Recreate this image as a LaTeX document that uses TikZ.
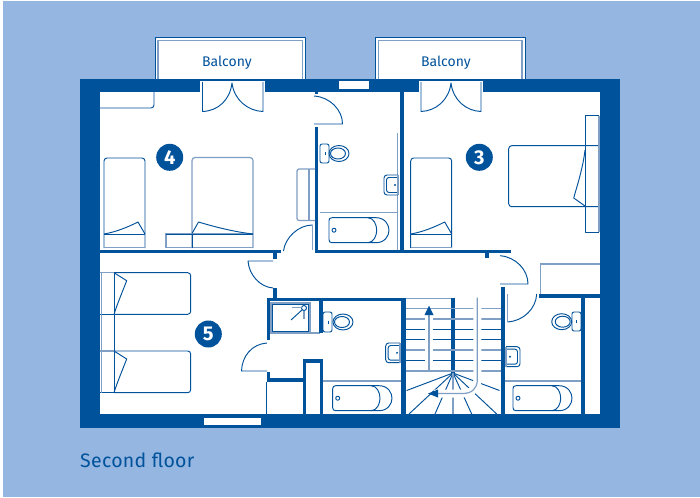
\documentclass[tikz,border=0pt]{standalone}
\usepackage{fontspec}
\setmainfont{Fira Sans}
\definecolor{wallc}{HTML}{00529B}
\definecolor{bgc}{HTML}{95B6E1}
\definecolor{lineg}{HTML}{7F9FC4}
\tikzset{
  wall/.style={fill=wallc,draw=none},
  ln/.style={draw=wallc,line width=0.95pt,line join=round},
  lg/.style={draw=lineg,line width=1.2pt},
  lt/.style={draw=lineg,line width=0.6pt},
  badge/.style={circle,fill=wallc,minimum size=27pt,inner sep=0pt,text=white,font=\fontsize{20}{20}\selectfont\bfseries},
  lab/.style={text=wallc,inner sep=0pt,font=\fontsize{14}{15}\selectfont},
  halo/.style={draw=white,line width=8pt},
}
\newcommand{\wbox}[4]{\fill[wall] (#1,#2) rectangle (#3,#4);}
\newcommand{\bathtub}[5]{% x1 y1 x2 y2 arcx
  \draw[ln] (#1+3,#2) -- (#3-13,#2) .. controls (#3-4,#2) and (#3,#2+7) .. (#3,#2+12.5)
     .. controls (#3,#4-7) and (#3-4,#4) .. (#3-13,#4) -- (#1+3,#4)
     .. controls (#1+1,#4) and (#1,#4-1) .. (#1,#4-3) -- (#1,#2+3) .. controls (#1,#2+1) and (#1+1,#2) .. (#1+3,#2);
  \draw[ln] (#5-9,#2) .. controls (#5-3,#2) and (#5,#2+7) .. (#5,#2+12.5) .. controls (#5,#4-7) and (#5-3,#4) .. (#5-9,#4);
  \draw[ln] (#1+5,#2+12.5) circle (2);
}
\newcommand{\toiletL}[5]{% tank x1 y1 x2 y2, bowl centre x given as #5; bowl to the right
  \draw[ln,rounded corners=2pt] (#1,#2) rectangle (#3,#4);
  \draw[ln] (#5,#2/2+#4/2) ellipse (10 and 8);
  \draw[ln] (#5-1,#2/2+#4/2) ellipse (7.5 and 5.5);
  \fill[wall] (#1/2+#3/2,#2/2+#4/2-1.5) rectangle +(1,3);
}
\newcommand{\sinkR}[4]{% basin against right side
  \draw[ln,rounded corners=3pt] (#3,#2) -- (#1,#2) -- (#1,#4) -- (#3,#4);
  \draw[ln,rounded corners=2.5pt] (#3,#2+2.5) -- (#1+2.5,#2+2.5) -- (#1+2.5,#4-2.5) -- (#3,#4-2.5);
  \draw[lg] (#3,#2) -- (#3,#4);
  \fill[wall] (#3-3,#2/2+#4/2) circle (1.1);
}
\newcommand{\sinkL}[4]{% basin against left side
  \draw[ln,rounded corners=3pt] (#1,#2) -- (#3,#2) -- (#3,#4) -- (#1,#4);
  \draw[ln,rounded corners=2.5pt] (#1,#2+2.5) -- (#3-2.5,#2+2.5) -- (#3-2.5,#4-2.5) -- (#1,#4-2.5);
  \draw[lg] (#1,#2) -- (#1,#4);
  \fill[wall] (#1+4,#2/2+#4/2) circle (1.1);
}
\newcommand{\singlebed}[1]{% left x, fixed y
  \draw[ln,rounded corners=3pt] (#1,248) -- (#1,158) -- (#1+41,158) -- (#1+41,248);
  \draw[ln] (#1,234) -- (#1+41,234);
  \draw[lg] (#1,247.5) -- (#1+41,247.5);
  \draw[ln] (#1,234) .. controls (#1+12,232) and (#1+24,227) .. (#1+34,222) -- (#1+41,234);
}
\newcommand{\sidebed}[2]{% top y, bottom y
  \draw[ln,rounded corners=3pt] (114,#1) -- (190.7,#1) -- (190.7,#2) -- (114,#2);
  \draw[ln] (99,#1) -- (114,#1) (99,#2) -- (114,#2);
  \draw[ln] (114,#1) -- (126.7,#1+8) .. controls (122,#1+20) and (117,#1+32) .. (114,#2);
}
\begin{document}
\begin{tikzpicture}[x=1pt,y=-1pt]
\useasboundingbox (0,0) rectangle (700,497);
\fill[bgc] (3,1.5) rectangle (700,497);
% balconies
\foreach \a/\b in {155/305.5,375.7/525}{
  \fill[white] (\a,37.5) rectangle (\b,80);
  \draw[ln] (\a,79) -- (\a,37.5) -- (\b,37.5) -- (\b,79);
  \draw[lg] (\a+3,79) -- (\a+3,40.5) -- (\b-3,40.5) -- (\b-3,79);
}
% outer walls and interior
\wbox{80}{79}{620}{428}
\fill[white] (99.5,92) rectangle (600,414);
% openings in the outer walls
\fill[white] (200,81) rectangle (265,93);
\fill[white] (419,81) rectangle (483,93);
\fill[white] (339,81.5) rectangle (369,89);
\fill[white] (204,417.7) rectangle (261,425);
% inner walls
\wbox{99.5}{249.5}{281}{252.5}
\wbox{273}{252}{276.5}{259}
\wbox{273}{288}{276.5}{298}
\wbox{315}{92}{318}{94.5}
\wbox{315}{127}{318}{253}
\wbox{315}{250}{510.7}{253}
\wbox{400}{92}{403.5}{253}
\wbox{485}{253}{488.5}{258}
\wbox{266.7}{297.7}{405}{301}
\wbox{266.7}{297.7}{270}{340}
\wbox{266.7}{372}{270}{382}
\wbox{266.7}{378}{303}{382}
\wbox{320}{298}{323}{333}
\wbox{302.5}{359}{323}{363}
\wbox{302.5}{359}{306}{414}
\wbox{320}{359}{323}{414}
\wbox{400.7}{298}{406}{414}
\wbox{451}{298}{455.3}{373}
\wbox{500.7}{286.7}{505}{414}
\wbox{539}{294.3}{600}{298}
\wbox{580.7}{298}{584.7}{414}
\draw[ln] (266.5,382) -- (266.5,414);
% room 4 fittings
\draw[ln,rounded corners=3pt] (99.5,108) -- (154,108) -- (154,92);
\draw[ln] (202.5,82) -- (202.5,111.5) .. controls (218,111) and (230,100) .. (232,83)
   .. controls (234,100) and (248,111) .. (263,111.5) -- (263,82);
\singlebed{104}
\draw[lg,rounded corners=3pt] (192,248) -- (192,157.5) -- (253,157.5) -- (253,248);
\draw[lg] (166,248) -- (166,234) -- (253,234);
\draw[ln] (166,234) -- (253,234);
\draw[lg] (166,247.5) -- (253,247.5);
\draw[ln] (192,233.5) -- (198.5,222) .. controls (215,227) and (235,232) .. (253,234);
\draw[ln] (192,234) -- (192,248);
\draw[lg,rounded corners=2pt] (315,169) -- (297,169) -- (297,220.5) -- (315,220.5);
\draw[lg] (309,169) -- (309,220.5);
\draw[ln] (283.5,251) .. controls (285,238) and (298,225) .. (312.7,225);
\draw[lg] (312.7,225) -- (312.7,250);
% bathroom 1
\draw[ln] (314,96) .. controls (330,97) and (342.5,110) .. (342.5,124) -- (314,124);
\draw[lt] (397.5,133) -- (397.5,250);
\draw[lg] (320,212.7) -- (397.5,212.7);
\toiletL{320}{144}{329}{163}{339}
\sinkR{384}{175}{398}{195}
\bathtub{329}{217.7}{389}{242.7}{376.7}
% room 3 fittings
\draw[ln] (421,82) -- (421,111.5) .. controls (436,111) and (449,100) .. (451,83)
   .. controls (453,100) and (466,111) .. (481,111.5) -- (481,82);
\singlebed{410.7}
\draw[ln,rounded corners=3pt] (600,145.7) -- (508.7,145.7) -- (508.7,206.7) -- (600,206.7);
\draw[ln] (599,115.7) -- (585,115.7) -- (585,232) -- (599,232);
\draw[lg] (599,115.7) -- (599,232);
\draw[ln] (585,150) .. controls (583,168) and (577,186) .. (573.7,198) -- (585,206);
% corridor doors
\draw[ln] (500,255.7) .. controls (516,257) and (528,270) .. (528,284) -- (500,284);
\draw[lg] (507.7,294) -- (507.7,322);
\draw[ln] (507.7,322) .. controls (523,321) and (536,309) .. (536.7,294);
\draw[lg] (600,264) -- (540.7,264) -- (540.7,294.3);
% room 5 fittings
\sidebed{272.7}{314.3}
\sidebed{351}{392.7}
\draw[ln] (114.3,272.7) -- (114.3,392.7);
\draw[lt] (101.7,272.7) -- (101.7,392.7);
\draw[lg] (99.5,272.7) -- (114,272.7) (99.5,351) -- (114,351);
\draw[ln] (273,261) -- (248,261) .. controls (249,275) and (260,287) .. (273,288);
\draw[ln] (267,343) .. controls (252,344) and (242,356) .. (241.5,371) -- (267,371);
% shower
\draw[lg] (271,303) rectangle (310,333);
\draw[draw=wallc,line width=0.7pt] (272.5,304.5) rectangle (308.5,331.5);
\draw[lg] (310,333) -- (320,333);
\draw[ln] (319,301) -- (319,333);
\draw[ln] (304,308) circle (2.5);
\draw[ln] (291,320) -- (302.3,309.7);
\draw[lg] (292,307.3) -- (301.5,307.3);
\draw[lg] (304,310.5) -- (304,319);
% bathroom 2
\toiletL{323}{312}{332}{332}{343}
\sinkR{385.7}{343}{400}{362.7}
\draw[lg] (323,381) -- (400.7,381);
\bathtub{332.7}{385.7}{392}{410.7}{380}
% bathroom 3
\draw[lg] (505,381) -- (580.7,381);
\sinkL{506}{346.7}{520}{366.7}
\bathtub{513}{385.7}{572}{410.7}{560.7}
\draw[ln,rounded corners=2pt] (572,312) rectangle (581,331);
\draw[ln] (561.7,321.7) ellipse (10 and 8);
\draw[ln] (562.7,321.7) ellipse (7.5 and 5.5);
\fill[wall] (576,320) rectangle +(1,3);
% stairs
\draw[lt] (406,298.3) -- (451,298.3);
\foreach \y/\s in {308.3/lg,319/lg,329/ln,339.5/ln,350/lg,360.5/ln,371/lg}{
  \draw[\s] (406,\y) -- (500.7,\y);
}
\foreach \a/\b in {406.6/390.5,409/414,435/414,471.7/414,496.7/414,499.5/390.5}{
  \draw[ln] (453,373) -- (\a,\b);
}
\draw[lg] (453,373) -- (453,414);
\draw[halo] (429,370) -- (429,311);
\draw[halo] (477.3,305) -- (477.3,380) .. controls (477.3,388) and (472,393.5) .. (463,393.5) -- (434,393.5);
\draw[lg] (429,370) -- (429,314);
\fill[wallc] (429,305.7) -- (433.5,315) -- (424.5,315) -- cycle;
\draw[lg] (477.3,297.5) -- (477.3,380) .. controls (477.3,388) and (472,393.5) .. (463,393.5) -- (436,393.5);
\fill[wallc] (428,393.5) -- (438,389.5) -- (438,397.5) -- cycle;
% labels
\node[lab] (balc1) at (227,62.5) {Balcony};
\node[lab] (balc2) at (446,62.5) {Balcony};
\node[badge] (r4) at (169.7,157.3) {4};
\node[badge] (r3) at (479.3,157.3) {3};
\node[badge] (r5) at (208.3,334) {5};
\node[text=wallc,inner sep=0pt,anchor=west,font=\fontsize{19.5}{20}\selectfont\addfontfeatures{LetterSpace=1.5}] (floor) at (80,460) {Second floor};
\end{tikzpicture}
\end{document}
